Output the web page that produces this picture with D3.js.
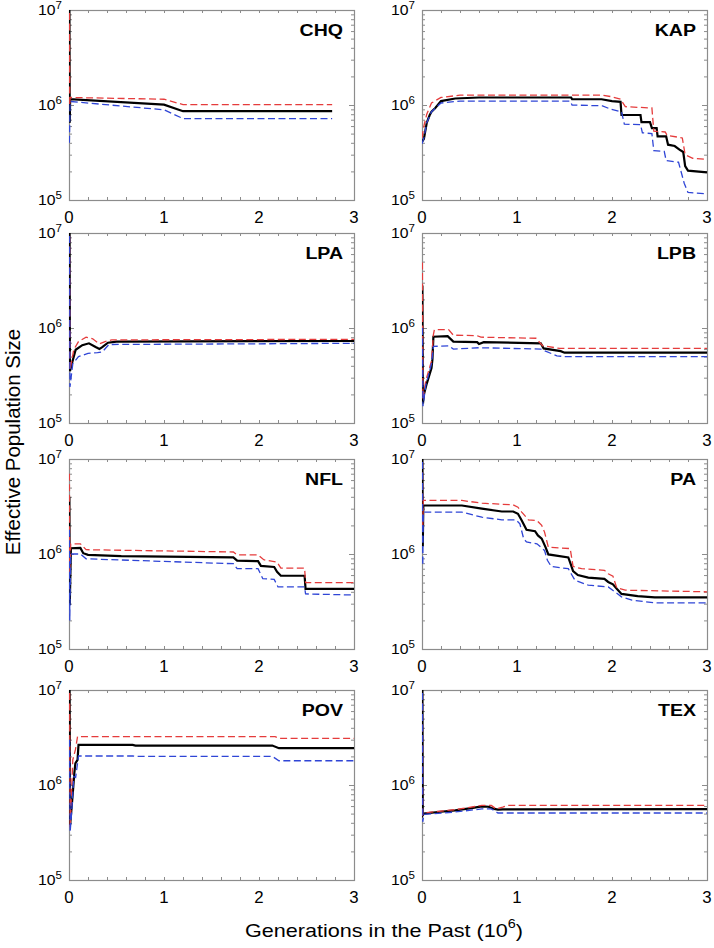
<!DOCTYPE html>
<html><head><meta charset="utf-8">
<script src="https://cdn.jsdelivr.net/npm/d3@7"></script>
<style>body{margin:0;background:#fff}svg{display:block}</style>
</head><body>
<svg id="c" width="714" height="948"></svg>
<script>
// ---------- data ----------
const panelNames = ["CHQ","KAP","LPA","LPB","NFL","PA","POV","TEX"];
const xTickValues = [0,1,2,3];
const xTickLabels = ["0","1","2","3"];
const yTickValues = [1e5,1e6,1e7];
const yTickExponents = ["5","6","7"];
const xTitleMain = "Generations in the Past (10";
const xTitleSup = "6";
const xTitleEnd = ")";
const yTitle = "Effective Population Size";

// [generations (10^6), Ne]
const CHQ_median = [[0.004,1.2e7],[0.008,6.5e5],[0.012,1.15e6],[1.0,1.01e6],[1.2,8.6e5],[2.77,8.6e5]];
const CHQ_upper  = [[0.004,1.2e7],[0.008,1.0e6],[0.012,1.2e6],[1.0,1.15e6],[1.2,1.01e6],[2.77,1.01e6]];
const CHQ_lower  = [[0.004,4e5],[0.012,1.09e6],[1.0,8.9e5],[1.2,7.2e5],[2.77,7.2e5]];

const KAP_median = [[0,4.1e5],[0.02,4.4e5],[0.05,6.5e5],[0.08,7.8e5],[0.1,8.5e5],[0.14,9.3e5],[0.2,1.1e6],[0.35,1.17e6],[0.6,1.2e6],[1.57,1.2e6],[1.58,1.15e6],[1.89,1.15e6],[2.0,1.1e6],[2.09,1.08e6],[2.1,7.85e5],[2.3,7.85e5],[2.31,6.6e5],[2.4,6.6e5],[2.42,5.7e5],[2.47,5.7e5],[2.48,4.67e5],[2.57,4.67e5],[2.59,3.82e5],[2.66,3.7e5],[2.71,3.39e5],[2.75,3.2e5],[2.77,2.27e5],[2.8,2.04e5],[3,1.95e5]];
const KAP_upper  = [[0,4.5e5],[0.02,6e5],[0.05,8e5],[0.1,1.05e6],[0.2,1.2e6],[0.4,1.27e6],[1.9,1.27e6],[2.0,1.22e6],[2.09,1.15e6],[2.14,9.6e5],[2.42,9.3e5],[2.44,5.3e5],[2.56,5.2e5],[2.58,4.8e5],[2.74,4.5e5],[2.77,3.0e5],[2.85,2.75e5],[3,2.68e5]];
const KAP_lower  = [[0,3.9e5],[0.02,4.5e5],[0.05,6.5e5],[0.1,8.5e5],[0.2,1.05e6],[0.4,1.1e6],[1.56,1.1e6],[1.58,1.0e6],[1.9,9.8e5],[1.99,9e5],[2.1,8.5e5],[2.13,6.3e5],[2.3,6.2e5],[2.32,5.1e5],[2.42,5.0e5],[2.44,3.3e5],[2.55,3.25e5],[2.57,2.6e5],[2.7,2.5e5],[2.76,1.5e5],[2.8,1.2e5],[3,1.16e5]];

const LPA_median = [[0.006,1.2e7],[0.01,3.5e5],[0.03,4.2e5],[0.07,5.9e5],[0.14,6.6e5],[0.21,6.9e5],[0.28,6.3e5],[0.32,6.0e5],[0.35,6.3e5],[0.41,7.0e5],[0.5,7.2e5],[3,7.3e5]];
const LPA_upper  = [[0.006,1.2e7],[0.01,3.6e5],[0.05,5.9e5],[0.1,7.2e5],[0.18,8.0e5],[0.25,7.7e5],[0.32,6.8e5],[0.38,7.2e5],[0.45,7.5e5],[3,7.6e5]];
const LPA_lower  = [[0.006,1.2e7],[0.01,2.4e5],[0.04,4.2e5],[0.1,5.0e5],[0.2,5.4e5],[0.3,5.5e5],[0.35,5.6e5],[0.42,6.7e5],[3,6.9e5]];

const LPB_median = [[0.004,2.8e6],[0.01,1.6e5],[0.02,2.0e5],[0.05,2.6e5],[0.1,3.8e5],[0.11,4.7e5],[0.12,8.1e5],[0.27,8.2e5],[0.33,7.2e5],[0.58,7.1e5],[0.6,6.8e5],[0.65,7.1e5],[1.25,6.9e5],[1.28,6.1e5],[1.46,5.7e5],[1.5,5.5e5],[3,5.5e5]];
const LPB_upper  = [[0.004,4.9e6],[0.01,1.8e5],[0.04,2.8e5],[0.1,4.5e5],[0.12,8.5e5],[0.13,9.6e5],[0.28,9.6e5],[0.33,8.4e5],[0.58,8.3e5],[0.62,8.0e5],[1.2,7.8e5],[1.27,6.5e5],[1.45,6.1e5],[3,6.1e5]];
const LPB_lower  = [[0.004,1.0e6],[0.01,1.5e5],[0.04,2.5e5],[0.1,4.2e5],[0.12,6.4e5],[0.28,6.5e5],[0.33,6.0e5],[0.6,6.2e5],[1.25,6.0e5],[1.3,5.7e5],[1.42,5.1e5],[1.5,5.0e5],[3,5.0e5]];

const NFL_median = [[0.004,4e6],[0.008,2.9e5],[0.02,1.15e6],[0.12,1.16e6],[0.15,1.02e6],[0.2,9.8e5],[0.55,9.5e5],[1.73,9.2e5],[1.77,8.5e5],[1.99,8.4e5],[2.02,7.5e5],[2.16,7.3e5],[2.19,6.5e5],[2.23,5.9e5],[2.48,5.9e5],[2.49,4.3e5],[3,4.3e5]];
const NFL_upper  = [[0.004,7e6],[0.008,6e5],[0.018,1.28e6],[0.12,1.28e6],[0.18,1.11e6],[1.73,1.05e6],[1.77,9.8e5],[1.99,9.8e5],[2.05,8.7e5],[2.19,8.2e5],[2.23,7.1e5],[2.48,7.1e5],[2.49,5.0e5],[3,5.0e5]];
const NFL_lower  = [[0.004,1.8e6],[0.008,2e5],[0.018,1.0e6],[0.12,1.0e6],[0.18,8.9e5],[1.73,7.9e5],[1.77,7.0e5],[1.99,7.0e5],[2.04,5.5e5],[2.16,5.4e5],[2.2,4.5e5],[2.48,4.5e5],[2.49,3.8e5],[3,3.7e5]];

const PA_median = [[0.004,1.2e7],[0.008,1.2e6],[0.014,3.24e6],[0.42,3.24e6],[0.63,3.0e6],[0.84,2.8e6],[0.96,2.8e6],[1.01,2.65e6],[1.05,2.25e6],[1.10,1.8e6],[1.19,1.74e6],[1.22,1.57e6],[1.26,1.45e6],[1.30,1.18e6],[1.32,1.05e6],[1.33,9.9e5],[1.54,9.2e5],[1.57,7.6e5],[1.59,6.6e5],[1.64,6.0e5],[1.75,5.65e5],[1.92,5.47e5],[1.96,5.08e5],[2.01,4.8e5],[2.05,4.3e5],[2.10,3.8e5],[2.27,3.6e5],[2.45,3.5e5],[3,3.5e5]];
const PA_upper  = [[0.004,1.2e7],[0.008,2e6],[0.014,3.66e6],[0.42,3.66e6],[0.63,3.43e6],[0.96,3.29e6],[1.01,3.11e6],[1.05,2.76e6],[1.12,2.29e6],[1.21,2.25e6],[1.26,2.0e6],[1.29,1.7e6],[1.33,1.18e6],[1.56,1.14e6],[1.59,7.4e5],[1.68,7.0e5],[1.92,6.74e5],[1.96,6.2e5],[2.01,5.83e5],[2.05,4.4e5],[2.14,4.16e5],[3,4.0e5]];
const PA_lower  = [[0.004,1.2e7],[0.008,7.6e5],[0.014,2.76e6],[0.42,2.76e6],[0.63,2.44e6],[0.84,2.29e6],[0.99,2.29e6],[1.03,2.08e6],[1.07,1.45e6],[1.10,1.34e6],[1.21,1.28e6],[1.29,1.09e6],[1.32,8.6e5],[1.36,7.4e5],[1.54,7.0e5],[1.57,6.2e5],[1.61,5.3e5],[1.75,4.7e5],[1.96,4.5e5],[2.03,4.0e5],[2.10,3.54e5],[2.21,3.27e5],[2.45,3.06e5],[3,3.06e5]];

const POV_median = [[0.006,1.2e7],[0.012,3.8e5],[0.04,8.2e5],[0.056,1.33e6],[0.067,1.69e6],[0.09,1.84e6],[0.10,2.64e6],[0.67,2.64e6],[0.70,2.6e6],[2.14,2.6e6],[2.21,2.44e6],[3,2.44e6]];
const POV_upper  = [[0.006,1.2e7],[0.012,3.5e5],[0.04,1.84e6],[0.067,2.34e6],[0.09,3.23e6],[2.17,3.23e6],[2.21,3.1e6],[3,3.1e6]];
const POV_lower  = [[0.006,3e6],[0.012,3.2e5],[0.03,5.5e5],[0.05,1.23e6],[0.07,1.2e6],[0.1,2.02e6],[0.67,2.02e6],[0.70,2.0e6],[2.14,2.0e6],[2.21,1.8e6],[3,1.8e6]];

const TEX_median = [[0.004,1.2e7],[0.008,4.8e5],[0.02,5.0e5],[0.17,5.2e5],[0.35,5.4e5],[0.52,5.7e5],[0.63,5.96e5],[0.7,5.9e5],[0.76,5.6e5],[0.8,5.5e5],[0.85,5.55e5],[3,5.58e5]];
const TEX_upper  = [[0.004,1.2e7],[0.008,4.9e5],[0.02,5.1e5],[0.35,5.5e5],[0.63,6.1e5],[0.73,6.1e5],[0.78,5.6e5],[0.85,5.85e5],[0.9,6.1e5],[3,6.1e5]];
const TEX_lower  = [[0.004,1.2e7],[0.008,4.1e5],[0.02,4.9e5],[0.35,5.2e5],[0.63,5.6e5],[0.73,5.6e5],[0.8,5.07e5],[3,5.07e5]];

const seriesByPanel = {
  CHQ:[CHQ_median,CHQ_upper,CHQ_lower], KAP:[KAP_median,KAP_upper,KAP_lower],
  LPA:[LPA_median,LPA_upper,LPA_lower], LPB:[LPB_median,LPB_upper,LPB_lower],
  NFL:[NFL_median,NFL_upper,NFL_lower], PA:[PA_median,PA_upper,PA_lower],
  POV:[POV_median,POV_upper,POV_lower], TEX:[TEX_median,TEX_upper,TEX_lower]
};

// ---------- layout / style ----------
const colX0 = [69, 422], colX1 = [354, 707];
const rowY0 = [10, 233, 459, 690], panelH = 190;
const styles = [
  {stroke:"#000", width:2.2, dash:null},
  {stroke:"#e53c3c", width:1.3, dash:"7,3.5"},
  {stroke:"#2f45d6", width:1.3, dash:"7,3.5"}
];
const FONT = "Arial, 'Liberation Sans', Helvetica, sans-serif";
const axisGrey = "#8c8c8c";

const svg = d3.select("#c");

function scaledText(parent, x, y, sx, anchor, size, weight) {
  const g = parent.append("g").attr("transform", `translate(${x},${y}) scale(${sx},1)`);
  return g.append("text").attr("text-anchor", anchor).attr("font-family", FONT)
    .attr("font-size", size).attr("font-weight", weight || "normal").attr("fill", "#000");
}

panelNames.forEach((name, i) => {
  const col = i % 2, row = Math.floor(i / 2);
  const x0 = colX0[col], x1 = colX1[col], y0 = rowY0[row], y1 = y0 + panelH;
  const x = d3.scaleLinear().domain([0, 3]).range([x0, x1]);
  const y = d3.scaleLog().domain([1e5, 1e7]).range([y1, y0]);
  const g = svg.append("g");

  const clipId = "clip" + i;
  svg.append("clipPath").attr("id", clipId).append("rect")
    .attr("x", x0).attr("y", y0).attr("width", x1 - x0 + 1).attr("height", panelH + 1);

  const xMinor = d3.range(0, 3.001, 0.2);
  const yMinor = [];
  [1e5, 1e6].forEach(b => { for (let m = 2; m <= 9; m++) yMinor.push(m * b); });

  const tickStyle = sel => {
    sel.select(".domain").remove();
    sel.selectAll("line").attr("stroke", axisGrey).attr("stroke-width", 1);
  };
  g.append("g").attr("transform", `translate(0,${y1})`)
    .call(d3.axisBottom(x).tickValues(xMinor).tickSize(-3).tickFormat("")).call(tickStyle);
  g.append("g").attr("transform", `translate(0,${y0})`)
    .call(d3.axisTop(x).tickValues(xMinor).tickSize(-3).tickFormat("")).call(tickStyle);
  g.append("g").attr("transform", `translate(${x0},0)`)
    .call(d3.axisLeft(y).tickValues(yMinor).tickSize(-3).tickFormat("")).call(tickStyle);
  g.append("g").attr("transform", `translate(${x1},0)`)
    .call(d3.axisRight(y).tickValues(yMinor).tickSize(-3).tickFormat("")).call(tickStyle);
  g.append("g").attr("transform", `translate(${x0},0)`)
    .call(d3.axisLeft(y).tickValues(yTickValues).tickSize(-5).tickFormat("")).call(tickStyle);
  g.append("g").attr("transform", `translate(${x1},0)`)
    .call(d3.axisRight(y).tickValues(yTickValues).tickSize(-5).tickFormat("")).call(tickStyle);

  // frame
  g.append("rect").attr("x", x0 + 0.5).attr("y", y0 + 0.5)
    .attr("width", x1 - x0).attr("height", panelH)
    .attr("fill", "none").attr("stroke", axisGrey).attr("stroke-width", 1.2);

  // lines
  const line = d3.line().x(d => x(d[0])).y(d => y(d[1]));
  const lg = g.append("g").attr("clip-path", `url(#${clipId})`);
  seriesByPanel[name].forEach((data, k) => {
    const st = styles[k];
    lg.append("path").datum(data).attr("d", line).attr("fill", "none")
      .attr("stroke", st.stroke).attr("stroke-width", st.width)
      .attr("stroke-dasharray", st.dash).attr("stroke-linejoin", "miter");
  });

  // x tick labels
  xTickValues.forEach((v, k) => {
    scaledText(g, x(v), y1 + 23, 1.05, "middle", 16).text(xTickLabels[k]);
  });
  // y tick labels
  yTickValues.forEach((v, k) => {
    const t = scaledText(g, x0 - 7, y(v) + 5, 1.05, "end", 15);
    t.append("tspan").text("10");
    t.append("tspan").attr("font-size", 11).attr("dy", -6).text(yTickExponents[k]);
  });
  // panel label
  scaledText(g, x1 - 11, y0 + 26, 1.15, "end", 17, "bold").text(name);
});

// axis titles
const xt = scaledText(svg, 384, 937, 1.2, "middle", 18);
xt.append("tspan").text(xTitleMain);
xt.append("tspan").attr("font-size", 12).attr("dy", -9).text(xTitleSup);
xt.append("tspan").attr("dy", 9).text(xTitleEnd);

svg.append("text").attr("transform", "translate(20,442) rotate(-90)")
  .attr("text-anchor", "middle").attr("font-family", FONT).attr("font-size", 20.5)
  .attr("fill", "#000").text(yTitle);
</script>
</body></html>
